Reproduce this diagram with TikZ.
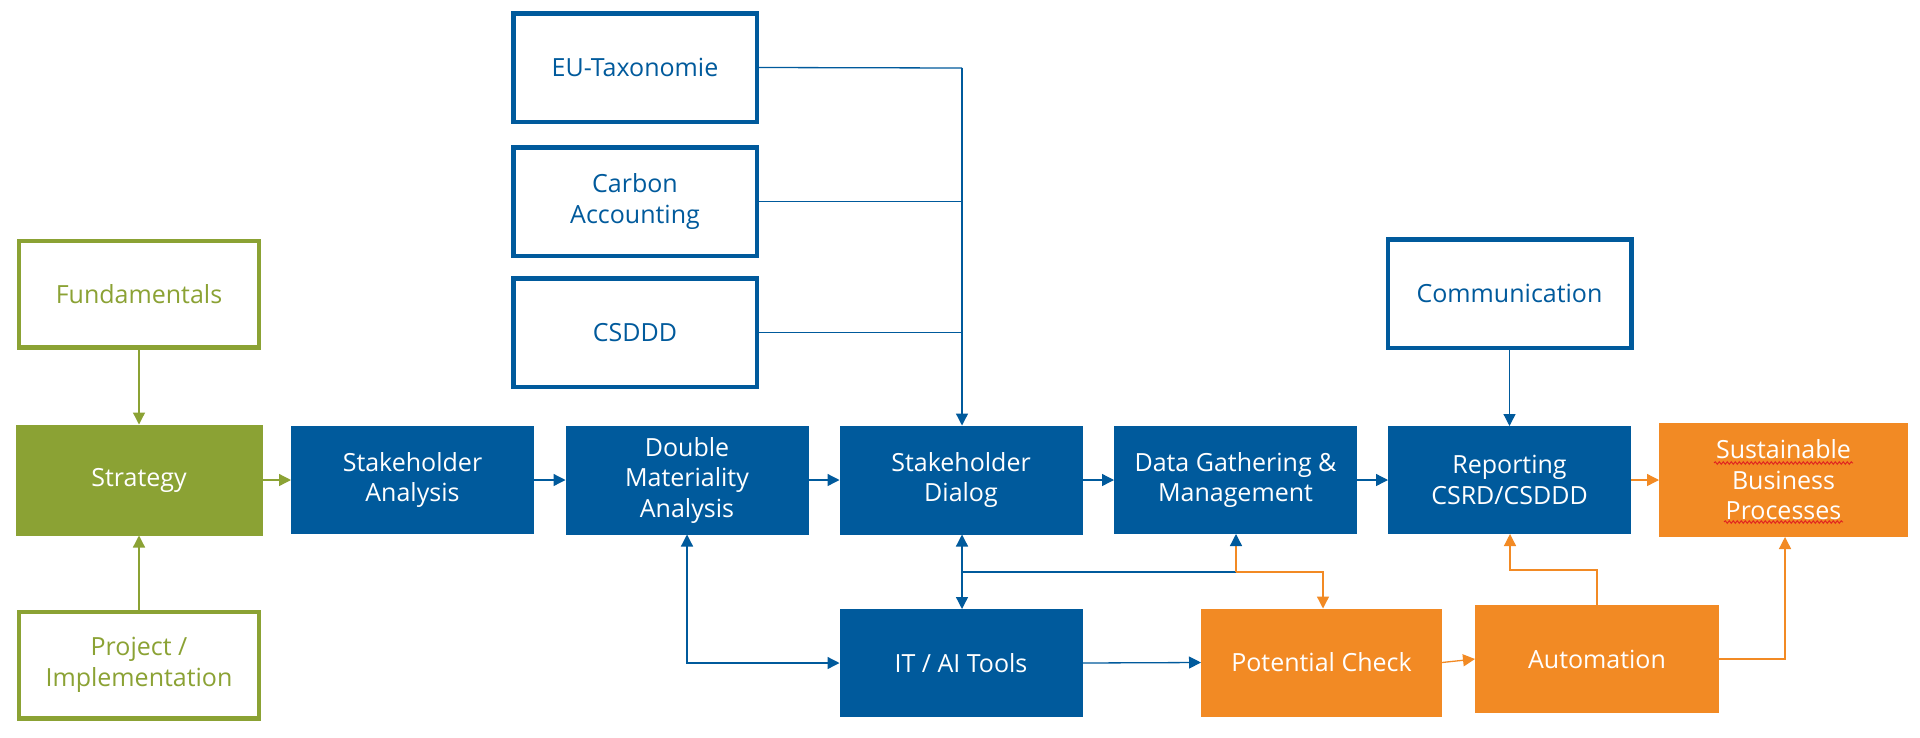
\documentclass[tikz,border=0pt]{standalone}
\usepackage{fontspec}
\setmainfont{Open Sans}
\usetikzlibrary{arrows.meta,decorations.pathmorphing}
\definecolor{cblue}{HTML}{005A9C}
\definecolor{cgreen}{HTML}{8BA234}
\definecolor{corange}{HTML}{F28A24}
\definecolor{cred}{HTML}{E02020}
\begin{document}
\begin{tikzpicture}[x=1pt,y=-1pt,
  every node/.style={font=\fontsize{25}{30.5}\selectfont, align=center, inner sep=0pt},
  fillbox/.style={minimum width=#1, minimum height=108, outer sep=0pt},
  bluefill/.style={fillbox=243, fill=cblue, text=white},
  orangefill/.style={fillbox=243, fill=corange, text=white},
  blueline/.style={draw=cblue, line width=4.5pt, text=cblue, minimum width=243.5, minimum height=108.5},
  greenline/.style={draw=cgreen, line width=4.5pt, text=cgreen, minimum width=240, minimum height=106.5},
  tip/.style={-{Triangle[length=12pt,width=12pt]}},
  btip/.style={{Triangle[length=12pt,width=12pt]}-{Triangle[length=12pt,width=12pt]}},
  bconn/.style={draw=cblue, line width=1.3pt, tip},
  oconn/.style={draw=corange, line width=1.3pt, tip},
  gconn/.style={draw=cgreen, line width=1.3pt, tip},
]
\fill[white] (0,0) rectangle (1920,737);
\useasboundingbox (0,0) rectangle (1920,737);

% left column
\node[greenline] (fund) at (139,294) {Fundamentals};
\node[fillbox=247, minimum height=111, fill=cgreen, text=white] (strat) at (139,480) {Strategy};
\node[greenline] (proj) at (139,665) {Project /\\Implementation};

% main row
\node[bluefill] (sa) at (412.5,480) {Stakeholder\\Analysis};
\node[bluefill, minimum height=109] (dma) at (687,480) {Double\\Materiality\\Analysis};
\node[bluefill, minimum height=109] (sd) at (961,480) {Stakeholder\\Dialog};
\node[bluefill] (dgm) at (1235.5,480) {Data Gathering \&\\Management};
\node[bluefill] (rep) at (1509.5,480) {Reporting\\CSRD/CSDDD};
\node[orangefill, minimum width=249, minimum height=114] (sbp) at (1783.5,480) {Sustainable\\Business\\Processes};

% top boxes
\node[blueline] (eu) at (635,67.5) {EU-Taxonomie};
\node[blueline] (carbon) at (635,201.5) {Carbon\\Accounting};
\node[blueline] (csddd) at (635,332.5) {CSDDD};
\node[blueline] (comm) at (1509.5,293.5) {Communication};

% bottom row
\node[bluefill] (it) at (961,663) {IT / AI Tools};
\node[orangefill, minimum width=241] (pc) at (1321.5,662.5) {Potential Check};
\node[orangefill, minimum width=244] (auto) at (1597,659) {Automation};

% spell-check underlines
\draw[cred, line width=0.9pt, decorate, decoration={snake, amplitude=1.3pt, segment length=4pt}] (1714,463) -- (1853,463);
\draw[cred, line width=0.9pt, decorate, decoration={snake, amplitude=1.3pt, segment length=4pt}] (1724,522) -- (1843,522);

% coordinates
\coordinate (jt) at (962,68);
\coordinate (jsd) at (962,572);
\coordinate (jdg) at (1236,572);
\coordinate (jpc) at (1323,572);
\coordinate (jdm) at (687,663);
\coordinate (jau) at (1597,570);
\coordinate (jre) at (1510,570);
\coordinate (jsb) at (1785,659);

% green connectors
\draw[gconn] (fund.south) -- (strat.north);
\draw[gconn] (proj.north) -- (strat.south);
\draw[gconn] (strat.east) -- (sa.west);

% main flow
\draw[bconn] (sa.east) -- (dma.west);
\draw[bconn] (dma.east) -- (sd.west);
\draw[bconn] (sd.east) -- (dgm.west);
\draw[bconn] (dgm.east) -- (rep.west);
\draw[oconn] (rep.east) -- (sbp.west);

% top inputs
\draw[draw=cblue, line width=1.3pt] (eu.east) -- (jt);
\draw[draw=cblue, line width=1.3pt] (carbon.east) -- (carbon.east -| jt);
\draw[draw=cblue, line width=1.3pt] (csddd.east) -- (csddd.east -| jt);
\draw[bconn] (jt) -- (jt |- sd.north);
\draw[bconn] (comm.south) -- (comm.south |- rep.north);

% dialog / tools
\draw[bconn, btip] (jsd |- sd.south) -- (jsd |- it.north);
\draw[draw=cblue, line width=1.3pt] (jsd) -- (jdg);
\draw[oconn] (jdg) -- (jpc) -- (jpc |- pc.north);
\draw[draw=corange, line width=1.3pt, -{Triangle[length=12pt,width=12pt,color=cblue]}] (jdg) -- (jdg |- dgm.south);
\draw[bconn, btip] (jdm |- dma.south) -- (jdm) -- (it.west |- jdm);
\draw[bconn] (it.east) -- (pc.west);

% orange flow
\draw[oconn] (pc.east) -- (auto.west);
\draw[oconn] (auto.north) -- (jau) -- (jre) -- (jre |- rep.south);
\draw[oconn] (auto.east) -- (jsb) -- (jsb |- sbp.south);
\end{tikzpicture}
\end{document}
